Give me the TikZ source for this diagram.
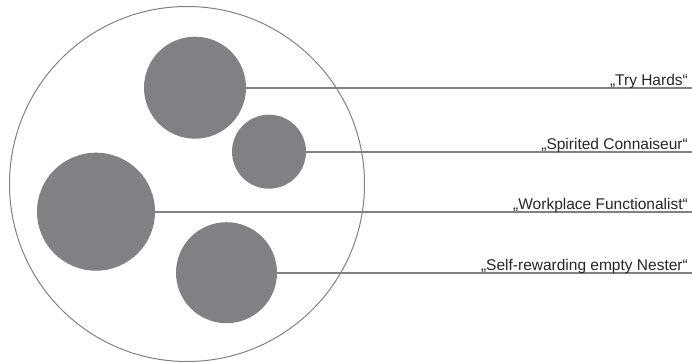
\documentclass[tikz,border=0pt]{standalone}
\usepackage{fontspec}
\setmainfont{Liberation Sans}
\definecolor{blobgray}{RGB}{128,129,133}
\begin{document}
\begin{tikzpicture}[x=1pt, y=-1pt, blob/.style={circle, fill=blobgray, inner sep=0pt}, tag/.style={anchor=base east, inner sep=0pt, text=black!85, font=\fontsize{15.5}{18}\selectfont}, link/.style={blobgray, line width=1.7pt}]
	\useasboundingbox (0,0) rectangle (692,363);
	\node[circle, draw=blobgray, line width=1pt, minimum size=355pt, inner sep=0pt] (all) at (187,184) {};
	\node[blob, minimum size=102pt] (th) at (195,87.7) {};
	\node[blob, minimum size=74pt] (sc) at (269,151.7) {};
	\node[blob, minimum size=118pt] (wf) at (96,211.7) {};
	\node[blob, minimum size=101pt] (en) at (226.5,272.7) {};
	\coordinate (thend) at (692,87.7);
	\coordinate (scend) at (692,151.7);
	\coordinate (wfend) at (692,211.7);
	\coordinate (enend) at (692,272.7);
	\draw[link] (th) -- (thend);
	\draw[link] (sc) -- (scend);
	\draw[link] (wf) -- (wfend);
	\draw[link] (en) -- (enend);
	\node[tag] (thtag) at (688,85.2) {„Try Hards“};
	\node[tag] (sctag) at (688,149.2) {„Spirited Connaiseur“};
	\node[tag] (wftag) at (688,209.2) {„Workplace Functionalist“};
	\node[tag] (entag) at (688,270.2) {„Self-rewarding empty Nester“};
\end{tikzpicture}
\end{document}
